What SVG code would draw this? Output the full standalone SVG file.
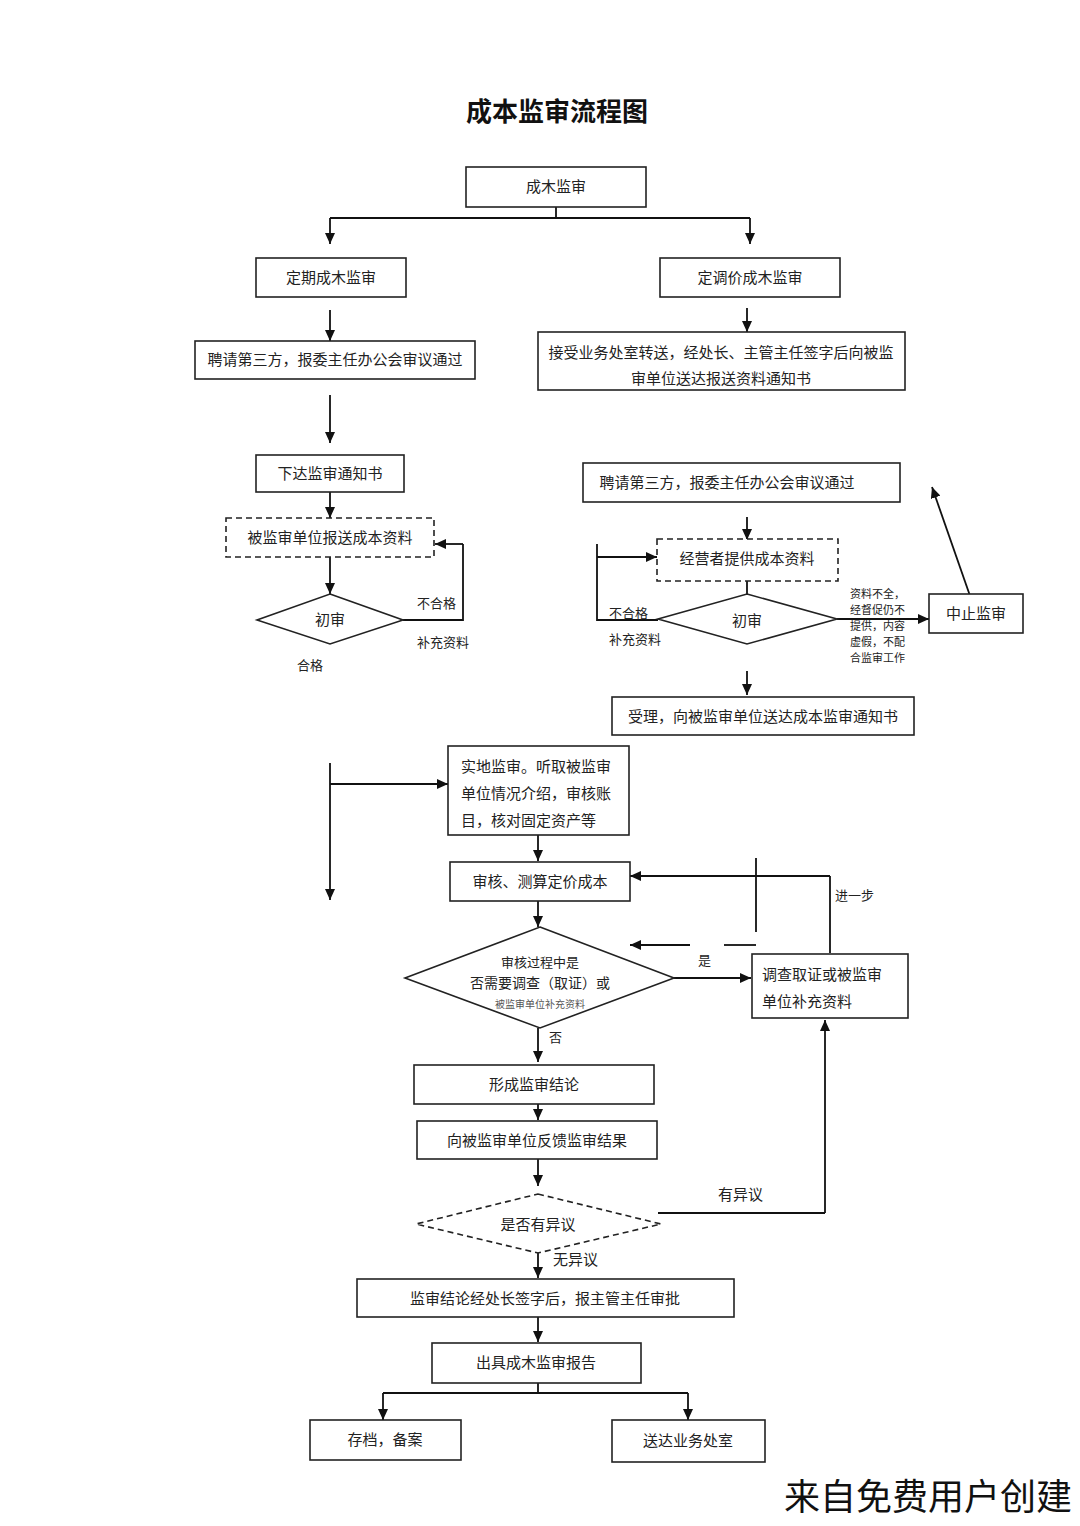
<svg xmlns="http://www.w3.org/2000/svg" width="1080" height="1526" viewBox="0 0 1080 1526">
<defs>
<marker id="ah" markerUnits="userSpaceOnUse" markerWidth="11" markerHeight="10" refX="11" refY="5" orient="auto">
<path d="M0,0 L11,5 L0,10 z" fill="#111"/>
</marker>
<style>
.box{fill:#fff;stroke:#222;stroke-width:1.6}
.dash{fill:#fff;stroke:#222;stroke-width:1.6;stroke-dasharray:6 4}
.ln{fill:none;stroke:#111;stroke-width:1.8}
.arr{fill:none;stroke:#111;stroke-width:1.8;marker-end:url(#ah)}
.t{font-family:"Noto Sans CJK SC","Noto Sans",sans-serif;font-size:15px;fill:#222;text-anchor:middle}
.tl{font-family:"Noto Sans CJK SC","Noto Sans",sans-serif;font-size:15px;fill:#222}
.lb{font-family:"Noto Sans CJK SC","Noto Sans",sans-serif;font-size:13px;fill:#222}
.s{font-family:"Noto Sans CJK SC","Noto Sans",sans-serif;font-size:11px;fill:#222}
</style>
</defs>
<rect width="1080" height="1526" fill="#fff"/>
<text x="557" y="121" font-family="'Noto Sans CJK SC',sans-serif" font-size="26" font-weight="bold" text-anchor="middle" fill="#111">成本监审流程图</text>

<g id="connectors">
<path class="ln" d="M556,207 V218 M330,218 H750"/>
<path class="arr" d="M330,218 V244"/>
<path class="arr" d="M750,218 V244"/>
<path class="arr" d="M330,310 V341"/>
<path class="arr" d="M747,308 V332"/>
<path class="arr" d="M330,395 V443"/>
<path class="arr" d="M330,492 V518"/>
<path class="arr" d="M330,557 V594"/>
<path class="ln" d="M403,620 H463 V544"/>
<path class="arr" d="M463,544 H435"/>
<path class="arr" d="M747,517 V540"/>
<path class="ln" d="M747,581 V594"/>
<path class="ln" d="M658,620 H597 V544"/>
<path class="arr" d="M597,557 H657"/>
<path class="arr" d="M837,619 H929"/>
<path class="arr" d="M976,613 L932,487"/>
<path class="arr" d="M747,671 V695"/>
<path class="ln" d="M330,763 V800"/>
<path class="arr" d="M330,800 V900"/>
<path class="arr" d="M330,784 H448"/>
<path class="arr" d="M538,835 V861"/>
<path class="arr" d="M538,901 V927"/>
<path class="ln" d="M756,858 V932"/>
<path class="ln" d="M756,945 H724"/>
<path class="arr" d="M690,945 H630"/>
<path class="arr" d="M674,978 H751"/>
<path class="ln" d="M830,953 V876"/>
<path class="arr" d="M830,876 H630"/>
<path class="arr" d="M538,1028 V1062"/>
<path class="arr" d="M538,1104 V1120"/>
<path class="arr" d="M538,1159 V1186"/>
<path class="ln" d="M658,1213 H825"/>
<path class="arr" d="M825,1213 V1020"/>
<path class="arr" d="M538,1240 V1278"/>
<path class="arr" d="M538,1317 V1342"/>
<path class="ln" d="M538,1383 V1393 M383,1393 H688"/>
<path class="arr" d="M383,1393 V1420"/>
<path class="arr" d="M688,1393 V1420"/>
<text class="lb" x="417" y="608">不合格</text>
<text class="lb" x="417" y="647">补充资料</text>
<text class="lb" x="297" y="670">合格</text>
<text class="lb" x="609" y="618">不合格</text>
<text class="lb" x="609" y="644">补充资料</text>
<text class="s" x="850" y="598">资料不全，</text>
<text class="s" x="850" y="614">经督促仍不</text>
<text class="s" x="850" y="630">提供，内容</text>
<text class="s" x="850" y="646">虚假，不配</text>
<text class="s" x="850" y="662">合监审工作</text>
<text class="lb" x="835" y="900">进一步</text>
<text class="lb" x="698" y="965">是</text>
<text class="lb" x="549" y="1042">否</text>
<text class="tl" x="718" y="1200">有异议</text>
<text class="tl" x="553" y="1265">无异议</text>
</g>

<g id="n-start"><rect class="box" x="466" y="167" width="180" height="40"/><text class="t" x="556" y="192">成木监审</text></g>
<g id="n-periodic"><rect class="box" x="256" y="258" width="150" height="39"/><text class="t" x="331" y="283">定期成木监审</text></g>
<g id="n-pricing"><rect class="box" x="660" y="258" width="180" height="39"/><text class="t" x="750" y="283">定调价成木监审</text></g>
<g id="n-hire-left"><rect class="box" x="195" y="341" width="280" height="38"/><text class="t" x="335" y="365">聘请第三方，报委主任办公会审议通过</text></g>
<g id="n-accept"><rect class="box" x="538" y="332" width="367" height="58"/><text class="t" x="721" y="358">接受业务处室转送，经处长、主管主任签字后向被监</text><text class="t" x="721" y="384">审单位送达报送资料通知书</text></g>
<g id="n-notice"><rect class="box" x="256" y="455" width="148" height="37"/><text class="t" x="330" y="479">下达监审通知书</text></g>
<g id="n-submit"><rect class="dash" x="226" y="518" width="208" height="39"/><text class="t" x="330" y="543">被监审单位报送成本资料</text></g>
<g id="n-review-left"><polygon class="box" points="330,594 403,620 330,644 257,620"/><text class="t" x="330" y="625">初审</text></g>
<g id="n-hire-right"><rect class="box" x="583" y="463" width="317" height="39"/><text class="t" x="727" y="488">聘请第三方，报委主任办公会审议通过</text></g>
<g id="n-operator"><rect class="dash" x="657" y="539" width="181" height="42"/><text class="t" x="747" y="564">经营者提供成本资料</text></g>
<g id="n-review-right"><polygon class="box" points="747,594 837,619 747,644 658,619"/><text class="t" x="747" y="626">初审</text></g>
<g id="n-stop"><rect class="box" x="929" y="594" width="94" height="39"/><text class="t" x="976" y="619">中止监审</text></g>
<g id="n-accepted"><rect class="box" x="612" y="697" width="302" height="38"/><text class="t" x="763" y="722">受理，向被监审单位送达成本监审通知书</text></g>
<g id="n-field"><rect class="box" x="448" y="746" width="181" height="89"/><text class="tl" x="461" y="772">实地监审。听取被监审</text><text class="tl" x="461" y="799">单位情况介绍，审核账</text><text class="tl" x="461" y="826">目，核对固定资产等</text></g>
<g id="n-calc"><rect class="box" x="450" y="862" width="180" height="39"/><text class="t" x="540" y="887">审核、测算定价成本</text></g>
<g id="n-decide"><polygon class="box" points="540,927 674,978 540,1028 405,978"/><text class="t" x="540" y="967" style="font-size:13px">审核过程中是</text><text class="t" x="540" y="988" style="font-size:14px">否需要调查（取证）或</text><text class="t" x="540" y="1008" style="font-size:10px;fill:#555">被监审单位补充资料</text></g>
<g id="n-investigate"><rect class="box" x="752" y="954" width="156" height="64"/><text class="tl" x="762" y="980">调查取证或被监审</text><text class="tl" x="762" y="1007">单位补充资料</text></g>
<g id="n-conclusion"><rect class="box" x="414" y="1065" width="240" height="39"/><text class="t" x="534" y="1090">形成监审结论</text></g>
<g id="n-feedback"><rect class="box" x="417" y="1121" width="240" height="38"/><text class="t" x="537" y="1146">向被监审单位反馈监审结果</text></g>
<g id="n-objection"><polygon class="dash" points="538,1194 661,1224 538,1253 416,1224"/><text class="t" x="538" y="1230">是否有异议</text></g>
<g id="n-approve"><rect class="box" x="357" y="1279" width="377" height="38"/><text class="t" x="545" y="1304">监审结论经处长签字后，报主管主任审批</text></g>
<g id="n-report"><rect class="box" x="432" y="1343" width="209" height="40"/><text class="t" x="536" y="1368">出具成木监审报告</text></g>
<g id="n-archive"><rect class="box" x="310" y="1420" width="151" height="40"/><text class="t" x="385" y="1445">存档，备案</text></g>
<g id="n-send"><rect class="box" x="612" y="1420" width="153" height="42"/><text class="t" x="688" y="1446">送达业务处室</text></g>

<text x="1072" y="1510" font-family="'Noto Sans CJK SC',sans-serif" font-size="36" text-anchor="end" fill="#111">来自免费用户创建</text>
</svg>
